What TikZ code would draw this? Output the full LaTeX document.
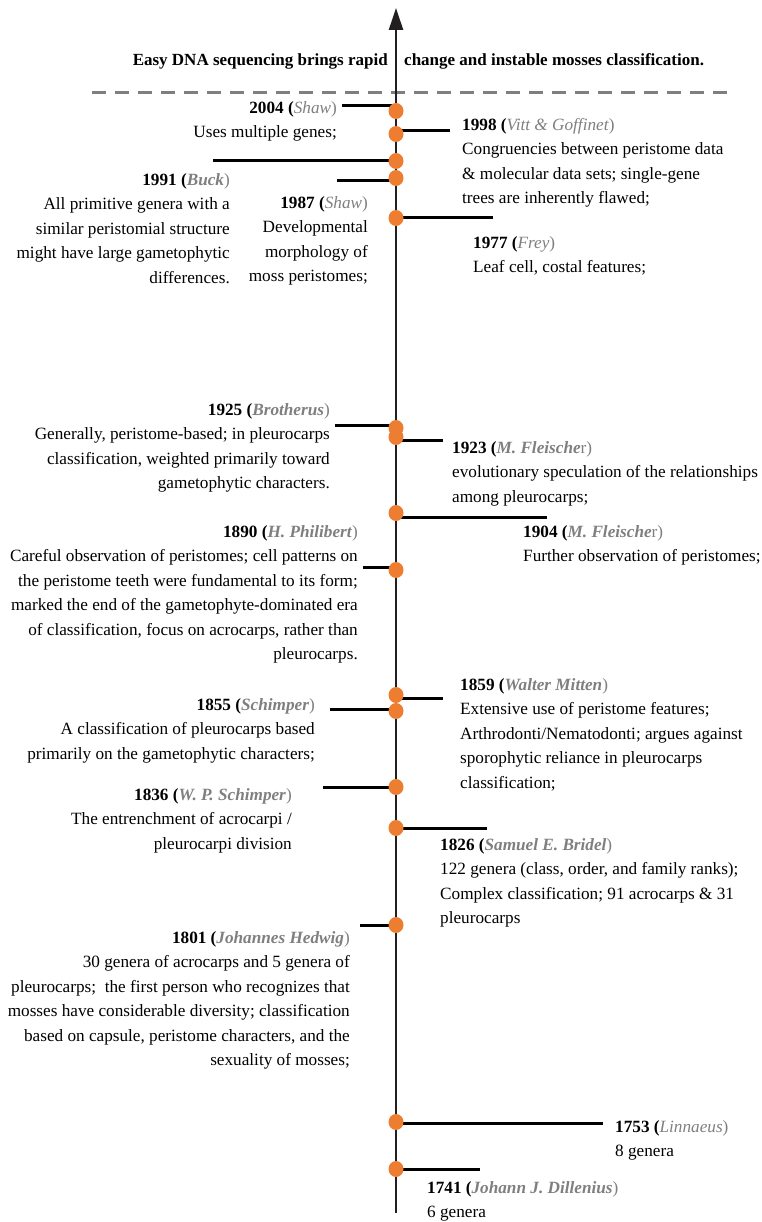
\documentclass[tikz,border=0pt]{standalone}
\usepackage{fontspec}
\setmainfont{Liberation Serif}
\usetikzlibrary{arrows.meta,shapes.geometric}
\definecolor{dotorange}{HTML}{ED7D31}
\definecolor{namegray}{HTML}{7F7F7F}
\definecolor{axisblack}{HTML}{231F20}
% year with a bold italic name / a plain italic name
\newcommand{\yrb}[2]{\textbf{#1 (}{\color{namegray}\textbf{\textit{#2}})}}
\newcommand{\yri}[2]{\textbf{#1 (}{\color{namegray}\textit{#2})}}
\begin{document}
\begin{tikzpicture}[x=1pt,y=-1pt, line cap=butt,
    dot/.style={fill=dotorange,ellipse,inner sep=0pt,minimum width=15pt,minimum height=16pt},
    tick/.style={line width=3pt,black},
    evtl/.style={anchor=north east,align=right,inner sep=0pt,font=\fontsize{17.2}{24.5}\selectfont},
    evtr/.style={anchor=north west,align=left,inner sep=0pt,font=\fontsize{17.2}{24.5}\selectfont},
    headtxt/.style={inner sep=0pt,font=\fontsize{17}{20}\selectfont\bfseries}]
\useasboundingbox (0,0) rectangle (762,1222);
\coordinate (top) at (396,8);
\coordinate (bot) at (396,1213);
% era of DNA sequencing
\node[headtxt,anchor=east] (headl) at (388,61) {Easy DNA sequencing brings rapid};
\node[headtxt,anchor=west] (headr) at (404,61) {change and instable mosses classification.};
\draw[namegray,line width=3pt,dash pattern=on 14pt off 9pt] (92,93) -- (735,93);
% ticks
\coordinate (t2004) at (342,106);
\coordinate (t1998) at (450,131);
\coordinate (t1991) at (213,161);
\coordinate (t1987) at (337,181);
\coordinate (t1977) at (493,218);
\coordinate (t1925) at (335,425);
\coordinate (t1923) at (443,440);
\coordinate (t1904) at (547,517);
\coordinate (t1890) at (363,567);
\coordinate (t1859) at (443,698);
\coordinate (t1855) at (330,709);
\coordinate (t1836) at (323,787);
\coordinate (t1826) at (487,828);
\coordinate (t1801) at (360,925);
\coordinate (t1753) at (603,1123);
\coordinate (t1741) at (480,1169);
\foreach \yr in {2004,1998,1991,1987,1977,1925,1923,1904,1890,1859,1855,1836,1826,1801,1753,1741}
  \draw[tick] (t\yr) -- (t\yr -| top);
% time axis
\draw[axisblack,line width=2.5pt,-{Triangle[length=22pt,width=14pt]}] (bot) -- (top);
% dots on the axis
\foreach \yr/\y in {2004/111,1998/134,1991/161,1987/178,1977/218,1925/428,1923/437,1904/513,
    1890/570,1859/695,1855/711,1836/787,1826/828,1801/925,1753/1122,1741/1169}
  \node[dot] (d\yr) at (396,\y) {};
% left side
\node[evtl] (e2004) at (337,101) {\yri{2004}{Shaw}\\Uses multiple genes;};
\node[evtl] (e1991) at (230,173) {\yrb{1991}{Buck}\\All primitive genera with a\\similar peristomial structure\\might have large gametophytic\\differences.};
\node[evtl] (e1987) at (368,196) {\yri{1987}{Shaw}\\Developmental\\morphology of\\moss peristomes;};
\node[evtl] (e1925) at (330,403) {\yrb{1925}{Brotherus}\\Generally, peristome-based; in pleurocarps\\classification, weighted primarily toward\\gametophytic characters.};
\node[evtl] (e1890) at (358,525) {\yrb{1890}{H. Philibert}\\Careful observation of peristomes; cell patterns on\\the peristome teeth were fundamental to its form;\\marked the end of the gametophyte-dominated era\\of classification, focus on acrocarps, rather than\\pleurocarps.};
\node[evtl] (e1855) at (315,698) {\yrb{1855}{Schimper}\\A classification of pleurocarps based\\primarily on the gametophytic characters;};
\node[evtl] (e1836) at (292,788) {\yrb{1836}{W. P. Schimper}\\The entrenchment of acrocarpi /\\pleurocarpi division};
\node[evtl] (e1801) at (350,931) {\yrb{1801}{Johannes Hedwig}\\30 genera of acrocarps and 5 genera of\\pleurocarps;\ \ the first person who recognizes that\\mosses have considerable diversity; classification\\based on capsule, peristome characters, and the\\sexuality of mosses;};
% right side
\node[evtr] (e1998) at (462,118) {\yri{1998}{Vitt \& Goffinet}\\Congruencies between peristome data\\\& molecular data sets; single-gene\\trees are inherently flawed;};
\node[evtr] (e1977) at (473,236) {\yri{1977}{Frey}\\Leaf cell, costal features;};
\node[evtr] (e1923) at (452,441) {\textbf{1923 (}{\color{namegray}\textbf{\textit{M. Fleische}}r)}\\evolutionary speculation of the relationships\\among pleurocarps;};
\node[evtr] (e1904) at (523,525) {\textbf{1904 (}{\color{namegray}\textbf{\textit{M. Fleische}}r)}\\Further observation of peristomes;};
\node[evtr] (e1859) at (460,678) {\yrb{1859}{Walter Mitten}\\Extensive use of peristome features;\\Arthrodonti/Nematodonti; argues against\\sporophytic reliance in pleurocarps\\classification;};
\node[evtr] (e1826) at (440,838) {\yrb{1826}{Samuel E. Bridel}\\122 genera (class, order, and family ranks);\\Complex classification; 91 acrocarps \& 31\\pleurocarps};
\node[evtr] (e1753) at (615,1120) {\yri{1753}{Linnaeus}\\8 genera};
\node[evtr] (e1741) at (427,1181) {\yrb{1741}{Johann J. Dillenius}\\6 genera};
\end{tikzpicture}
\end{document}
